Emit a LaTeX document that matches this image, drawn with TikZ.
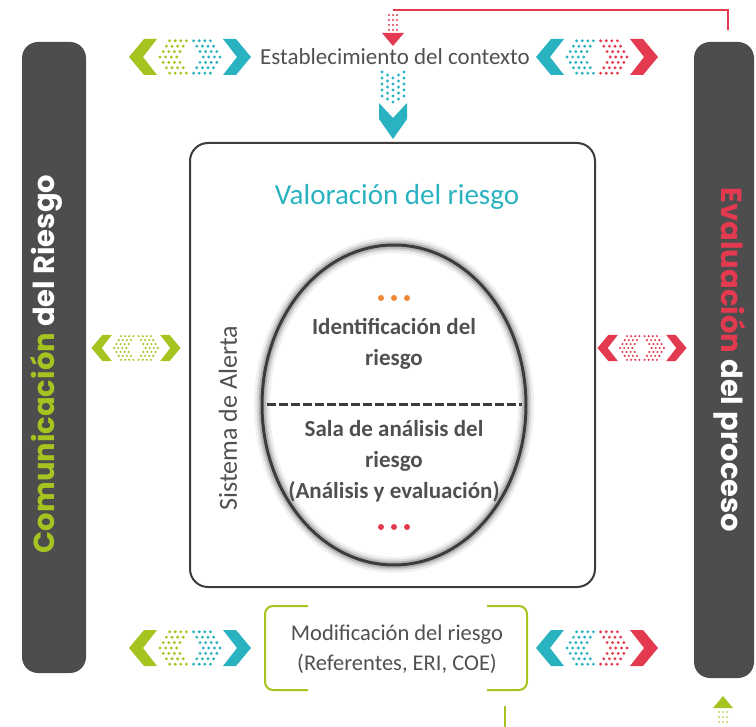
\documentclass[tikz,border=0pt]{standalone}
\usepackage{fontspec}
\setmainfont{Carlito}
\newfontfamily\barfont{Poppins}
\usetikzlibrary{shapes.geometric}

\definecolor{lime}{RGB}{166,196,32}
\definecolor{teal}{RGB}{41,178,192}
\definecolor{rosered}{RGB}{228,58,80}
\definecolor{dotorange}{RGB}{238,135,52}
\definecolor{bargray}{RGB}{77,77,77}
\definecolor{txtgray}{RGB}{80,80,80}
\definecolor{ringgray}{RGB}{60,60,60}

% double chevron group: #1 centre, #2 left colour, #3 right colour, #4 scale
\newcommand{\arrowpair}[4]{%
  \begin{scope}[shift={#1}, scale=#4]
    \fill[#2] (-61,0) -- (-46,-18) -- (-33,-18) -- (-47,0) -- (-33,18) -- (-46,18) -- cycle;
    \foreach \j in {-3,...,3}
      \foreach \i in {0,...,3}
        \fill[#2] ({-30+abs(\j)*3.2+\i*5.6},{\j*5.4}) circle (1.6pt);
    \foreach \j in {-3,...,3}
      \foreach \i in {0,...,3}
        \fill[#3] ({30-abs(\j)*3.2-\i*5.6},{\j*5.4}) circle (1.6pt);
    \fill[#3] (61,0) -- (46,-18) -- (33,-18) -- (47,0) -- (33,18) -- (46,18) -- cycle;
  \end{scope}}

\begin{document}
\begin{tikzpicture}[x=1pt, y=-1pt,
	bar/.style = { fill=bargray, rounded corners=16pt },
	bartext/.style = { font=\barfont\bfseries\fontsize{29}{32}\selectfont,
			text=white, inner sep=0pt },
	plain/.style = { font=\fontsize{23}{26}\selectfont, text=txtgray,
			align=center, inner sep=0pt },
	inner/.style = { font=\bfseries\fontsize{23}{31}\selectfont,
			text=txtgray, align=center, inner sep=0pt },
	bracket/.style = { draw=lime, line width=2pt, rounded corners=8pt }]

  \useasboundingbox (0,0) rectangle (756,727);

  % side bars
  \node[name=combar, bar, minimum width=64pt, minimum height=631pt] at (54,357.5) {};
  \node[name=evalbar, bar, minimum width=60pt, minimum height=636pt] at (724,360) {};
  \node[name=comtext, bartext, rotate=90] at (46,364)
    {\textcolor{lime}{Comunicación} del Riesgo};
  \node[name=evaltext, bartext, rotate=-90] at (730,360)
    {\textcolor{rosered}{Evaluación} del proceso};

  % context
  \node[name=contexto, plain] at (395,57) {Establecimiento del contexto};
  \arrowpair{(190,57)}{lime}{teal}{1}
  \arrowpair{(597,57)}{teal}{rosered}{1}

  % feedback line into the context
  \coordinate (fbtop) at (728,30);
  \coordinate (fbin) at (393,10);
  \draw[rosered, line width=1.3pt] (fbtop) |- (fbin);
  \foreach \i in {-1,0,1}
    \foreach \k in {0,...,3}
      \fill[rosered] ({393+\i*4},{15+\k*5}) circle (1.1pt);
  \fill[rosered] (382,33) -- (404,33) -- (393,46) -- cycle;

  % down into the assessment
  \foreach \i in {-2,...,2}
    \foreach \k in {0,...,4}
      \fill[teal] ({393+\i*5.5},{72+\k*6+(2-abs(\i))*3}) circle (1.6pt);
  \fill[teal] (379,103) -- (393,118) -- (407,103) -- (407,119) -- (393,139) -- (379,119) -- cycle;

  % risk assessment box
  \node[name=valbox, draw=ringgray, line width=2pt, rounded corners=18pt,
    minimum width=405pt, minimum height=444pt] at (392.5,365) {};
  \node[name=valtitle, plain, text=teal, font=\fontsize{29}{32}\selectfont]
    at (397,197) {Valoración del riesgo};
  \node[name=alerta, plain, rotate=90, font=\fontsize{26}{28}\selectfont]
    at (228,418) {Sistema de Alerta};

  \foreach \w/\o in {16/0.06, 11/0.1, 7/0.16}
    \draw[black, line width=\w pt, opacity=\o] (394,405) ellipse (132pt and 160pt);
  \node[name=sala, ellipse, draw=ringgray, line width=3pt,
    minimum width=264pt, minimum height=320pt] at (394,405) {};
  \draw[ringgray, line width=3pt, dash pattern=on 9pt off 3pt]
    ([xshift=6pt]sala.west) -- ([xshift=-6pt]sala.east);

  \foreach \x in {-13,0,13} \fill[dotorange] ({394+\x},298) circle (3pt);
  \node[name=ident, inner] at (394,344) {Identificación del\\riesgo};
  \node[name=analisis, inner] at (394,461)
    {Sala de análisis del\\riesgo\\(Análisis y evaluación)};
  \foreach \x in {-13,0,13} \fill[rosered] ({394+\x},527) circle (3pt);

  % side links
  \arrowpair{(136,348)}{lime}{lime}{0.73}
  \arrowpair{(642,348)}{rosered}{rosered}{0.73}

  % treatment
  \node[name=modif, plain, font=\fontsize{22.5}{30}\selectfont] at (397,649)
    {Modificación del riesgo\\(Referentes, ERI, COE)};
  \draw[bracket] (308,606) -- (265,606) -- (265,690) -- (308,690);
  \draw[bracket] (487,606) -- (527,606) -- (527,690) -- (487,690);
  \arrowpair{(190,648)}{lime}{teal}{1}
  \arrowpair{(597,648)}{teal}{rosered}{1}
  \draw[lime, line width=1.5pt] (505,706) -- (505,727);

  % back up into the evaluation bar
  \fill[lime] (713,708) -- (733,708) -- (723,696) -- cycle;
  \foreach \i in {-1,0,1}
    \foreach \k in {0,...,2}
      \fill[lime!70] ({723+\i*4},{712+\k*5}) circle (1.1pt);
\end{tikzpicture}
\end{document}
